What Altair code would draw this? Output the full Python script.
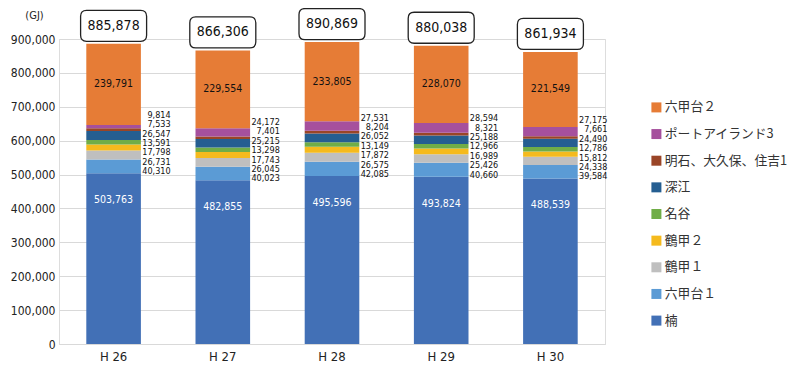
import altair as alt
import pandas as pd

years = ["H 26", "H 27", "H 28", "H 29", "H 30"]

# series values (stack order: bottom -> top)
kusunoki = [503763, 482855, 495596, 493824, 488539]
rokkodai1 = [40310, 40023, 42085, 40660, 39584]
tsurukabuto1 = [26731, 26045, 26575, 25426, 24338]
tsurukabuto2 = [17798, 17743, 17872, 16989, 15812]
myodani = [13591, 13298, 13149, 12966, 12786]
fukae = [26547, 25215, 26052, 25188, 24490]
akashi = [7533, 7401, 8204, 8321, 7661]
port_island = [9814, 24172, 27531, 28594, 27175]
rokkodai2 = [239791, 229554, 233805, 228070, 221549]

categories = ["楠", "六甲台１", "鶴甲１", "鶴甲２", "名谷", "深江",
              "明石、大久保、住吉1", "ポートアイランド3", "六甲台２"]
series = [kusunoki, rokkodai1, tsurukabuto1, tsurukabuto2, myodani, fukae,
          akashi, port_island, rokkodai2]
colors = ["#4270B6", "#5B9BD5", "#BFBFBF", "#F5BA1D", "#70AD47", "#255E91",
          "#9A4527", "#A6509D", "#E67C36"]

FONT = "DejaVu Sans Condensed, Roboto, sans-serif"
JFONT = "Noto Sans CJK JP"

rows = []
for ci, (cat, vals) in enumerate(zip(categories, series)):
    for yi, y in enumerate(years):
        rows.append({"year": y, "category": cat, "value": vals[yi], "order": ci})
df = pd.DataFrame(rows)

totals = [sum(s[i] for s in series) for i in range(len(years))]
fmt = lambda v: f"{v:,}"

small_cats_top_down = [port_island, akashi, fukae, myodani, tsurukabuto2,
                       tsurukabuto1, rokkodai1]
lab = pd.DataFrame({
    "year": years,
    "total": totals,
    "total_txt": [fmt(t) for t in totals],
    "base": kusunoki,
    "base_txt": [fmt(v) for v in kusunoki],
    "top_mid": [t - v / 2 for t, v in zip(totals, rokkodai2)],
    "top_txt": [fmt(v) for v in rokkodai2],
    "side_txt": ["\n".join(fmt(s[i]) for s in small_cats_top_down) for i in range(len(years))],
})

xaxis = alt.Axis(title=None, labelAngle=0, ticks=False, domainColor="#D9D9D9",
                 labelFontSize=13, labelFont=FONT, labelColor="#222",
                 labelPadding=6)
xenc = alt.X("year:N", sort=years,
             scale=alt.Scale(paddingInner=0.5, paddingOuter=0.25), axis=xaxis)
yscale = alt.Scale(domain=[0, 900000], nice=False)
yaxis = alt.Axis(title="(GJ)", titleAngle=0, titleX=-25, titleY=-24,
                 titleAlign="center", titleBaseline="middle",
                 titleFontSize=11, titleFontWeight="normal", titleFont=FONT,
                 titleColor="#222",
                 values=list(range(0, 900001, 100000)), format=",d",
                 labelFontSize=12, labelFont=FONT, labelColor="#222",
                 ticks=False, domain=False, labelPadding=4,
                 gridColor="#D9D9D9")


def yenc(field):
    return alt.Y(field, scale=yscale, axis=yaxis)


legend_order = categories[::-1]
legend_colors = colors[::-1]

bars = alt.Chart(df).mark_bar().encode(
    x=xenc,
    y=alt.Y("value:Q", stack="zero", scale=yscale, axis=yaxis),
    color=alt.Color("category:N",
                    scale=alt.Scale(domain=legend_order, range=legend_colors),
                    legend=alt.Legend(title=None, orient="none", legendX=591, legendY=62,
                                      symbolType="square", symbolSize=100,
                                      symbolStrokeWidth=0, labelFontSize=12.8,
                                      labelFont=JFONT, labelColor="#333",
                                      rowPadding=12.65, labelOffset=2, padding=0,
                                      labelLimit=400)),
    order=alt.Order("order:Q"),
)

base = alt.Chart(lab)

blue_txt = base.mark_text(color="white", fontSize=10.5, font=FONT, dy=27).encode(
    x=xenc, y=yenc("base:Q"), text="base_txt:N")

orange_txt = base.mark_text(color="#111", fontSize=10.5, font=FONT).encode(
    x=xenc, y=yenc("top_mid:Q"), text="top_txt:N")

side_txt = base.mark_text(color="#111", fontSize=9, font=FONT, align="right",
                          baseline="bottom", lineBreak="\n", lineHeight=9.4,
                          dx=57, dy=3 - 6 * 9.4).encode(
    x=xenc, y=yenc("base:Q"), text="side_txt:N")

box_path = ("M -0.82 -0.47 L 0.82 -0.47 Q 1 -0.47 1 -0.29 L 1 0.29 "
            "Q 1 0.47 0.82 0.47 L -0.82 0.47 Q -1 0.47 -1 0.29 "
            "L -1 -0.29 Q -1 -0.47 -0.82 -0.47 Z")
boxes = base.mark_point(shape=box_path, size=66 * 66, filled=True, fill="white",
                        stroke="#222", strokeWidth=1.3, opacity=1, yOffset=-18).encode(
    x=xenc, y=yenc("total:Q"))

total_txt = base.mark_text(color="#111", fontSize=14, font=FONT, dy=-18).encode(
    x=xenc, y=yenc("total:Q"), text="total_txt:N")

chart = alt.layer(bars, blue_txt, orange_txt, side_txt, boxes, total_txt).properties(
    width=546, height=305,
    autosize=alt.AutoSizeParams(type="none"),
    padding={"left": 51, "top": 31, "right": 184, "bottom": 25},
).configure_view(stroke=None).configure(background="white")

chart.save("out.html", embed_options={"renderer": "svg", "actions": False})
